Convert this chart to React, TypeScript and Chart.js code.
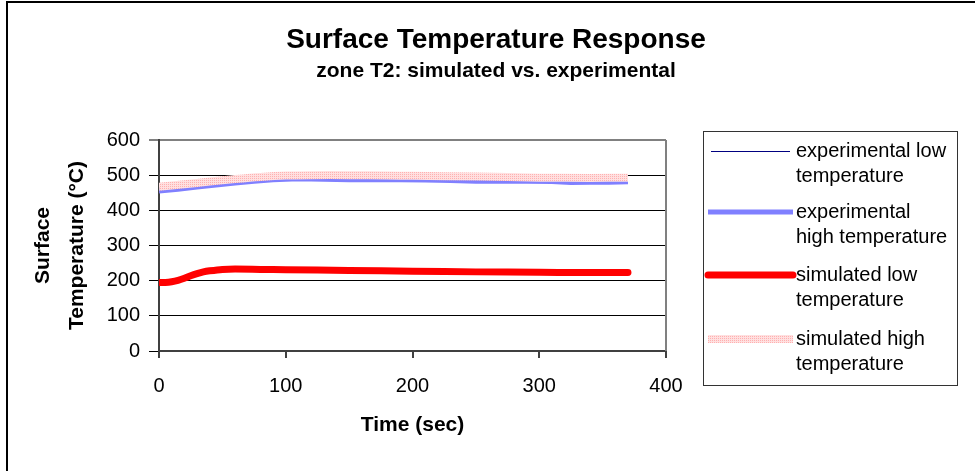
import React, { useEffect, useRef } from "react";
import { Chart, registerables } from "chart.js";
Chart.register(...registerables);

const titleText = "Surface Temperature Response";
const subtitleText = "zone T2: simulated vs. experimental";
const xAxisTitle = "Time (sec)";
const yAxisTitleLines = ["Surface", "Temperature (°C)"];

const xTickValues = [0, 100, 200, 300, 400];
const yTickValues = [0, 100, 200, 300, 400, 500, 600];

const seriesNames = [
  ["experimental low", "temperature"],
  ["experimental", "high temperature"],
  ["simulated low", "temperature"],
  ["simulated high", "temperature"],
];

const expLowTime = [0, 20, 40, 60, 100, 150, 200, 250, 300, 370];
const expLowTemp = [196, 205, 227, 232, 230, 229, 227, 225, 224, 223];

const expHighTime = [0, 15, 30, 45, 60, 75, 90, 105, 120, 140, 150, 170, 190, 210, 230, 250, 270, 290, 310, 325, 340, 355, 370];
const expHighTemp = [455, 460, 466, 472, 478, 483, 487, 489, 489, 488, 487, 488, 487, 486, 485, 483, 483, 483, 482, 479, 480, 480, 481];

const simLowTime = [0, 5, 10, 15, 20, 25, 30, 35, 40, 50, 60, 80, 100, 150, 200, 250, 300, 330, 370];
const simLowTemp = [195, 195, 197, 201, 207, 214, 220, 225, 228, 232, 233, 232, 231, 229, 227, 225, 224, 223, 223];

const simHighTime = [0, 20, 40, 60, 80, 100, 120, 150, 180, 200, 250, 300, 340, 370];
const simHighTemp = [467, 474, 482, 489, 495, 499, 500, 500, 499, 498, 496, 493, 492, 493];

const toPoints = (xs: number[], ys: number[]) => xs.map((x, i) => ({ x, y: ys[i] }));

const FONT = "'Liberation Sans', Arial, sans-serif";

export default function App() {
  const ref = useRef<HTMLCanvasElement>(null);
  useEffect(() => {
    const canvas = ref.current!;
    const pc = document.createElement("canvas");
    pc.width = 4;
    pc.height = 4;
    const pctx = pc.getContext("2d")!;
    pctx.fillStyle = "#FFE0E0";
    pctx.fillRect(0, 0, 4, 4);
    pctx.fillStyle = "#FFB0B0";
    pctx.fillRect(0, 0, 1, 1);
    pctx.fillRect(2, 2, 1, 1);
    pctx.fillRect(2, 0, 1, 1);
    pctx.fillRect(0, 2, 1, 1);
    const pattern = canvas.getContext("2d")!.createPattern(pc, "repeat")!;

    const styles = [
      { color: "#000080", width: 1 },
      { color: "#8080FF", width: 5 },
      { color: "#FF0000", width: 7 },
      { color: pattern as any, width: 8 },
    ];

    const deco = {
      id: "deco",
      afterDraw(chart: any) {
        const ctx = chart.ctx as CanvasRenderingContext2D;
        const ca = chart.chartArea;
        ctx.save();
        // outer border
        ctx.strokeStyle = "#000";
        ctx.lineWidth = 2;
        ctx.beginPath();
        ctx.moveTo(7, 471);
        ctx.lineTo(7, 2);
        ctx.lineTo(975, 2);
        ctx.stroke();
        // plot right border
        ctx.strokeStyle = "#808080";
        ctx.lineWidth = 2;
        ctx.beginPath();
        ctx.moveTo(ca.right, ca.top);
        ctx.lineTo(ca.right, ca.bottom);
        ctx.stroke();
        // titles
        ctx.fillStyle = "#000";
        ctx.textAlign = "center";
        ctx.textBaseline = "middle";
        ctx.font = `bold 28px ${FONT}`;
        ctx.fillText(titleText, 496, 40);
        ctx.font = `bold 21px ${FONT}`;
        ctx.fillText(subtitleText, 496, 71);
        ctx.fillText(xAxisTitle, (ca.left + ca.right) / 2, 425);
        const yc = (ca.top + ca.bottom) / 2;
        ctx.save();
        ctx.translate(43, yc);
        ctx.rotate(-Math.PI / 2);
        ctx.fillText(yAxisTitleLines[0], 0, 0);
        ctx.restore();
        ctx.save();
        ctx.translate(77, yc);
        ctx.rotate(-Math.PI / 2);
        ctx.fillText(yAxisTitleLines[1], 0, 0);
        ctx.restore();
        // legend
        ctx.strokeStyle = "#333";
        ctx.lineWidth = 1;
        ctx.strokeRect(703.5, 131.5, 254, 254);
        const rowY = [151, 212, 275, 339];
        ctx.font = `20px ${FONT}`;
        ctx.textAlign = "left";
        seriesNames.forEach((lines, i) => {
          const y = rowY[i];
          const ly = i === 0 ? y + 0.5 : y;
          ctx.strokeStyle = styles[i].color;
          ctx.lineWidth = styles[i].width;
          ctx.lineCap = i === 2 ? "round" : "butt";
          ctx.beginPath();
          ctx.moveTo(i === 0 ? 711 : 708, ly);
          ctx.lineTo(i === 0 ? 790 : 793, ly);
          ctx.stroke();
          ctx.fillStyle = "#000";
          ctx.fillText(lines[0], 796, y);
          ctx.fillText(lines[1], 796, y + 25);
        });
        ctx.restore();
      },
    };

    const chart = new Chart(canvas, {
      type: "scatter",
      data: {
        datasets: [
          { label: seriesNames[0].join(" "), data: toPoints(expLowTime, expLowTemp), borderColor: styles[0].color, borderWidth: 1, showLine: true, pointRadius: 0, tension: 0.3, order: 4 },
          { label: seriesNames[1].join(" "), data: toPoints(expHighTime, expHighTemp), borderColor: styles[1].color, borderWidth: 5, showLine: true, pointRadius: 0, tension: 0, order: 3 },
          { label: seriesNames[2].join(" "), data: toPoints(simLowTime, simLowTemp), borderColor: styles[2].color, borderWidth: 7, showLine: true, pointRadius: 0, tension: 0.3, borderCapStyle: "round", order: 2 },
          { label: seriesNames[3].join(" "), data: toPoints(simHighTime, simHighTemp), borderColor: pattern as any, borderWidth: 8, showLine: true, pointRadius: 0, tension: 0.3, order: 1 },
        ],
      },
      options: {
        responsive: false,
        animation: false,
        layout: { padding: { left: 8, right: 309, top: 140, bottom: 0 } },
        plugins: { legend: { display: false }, tooltip: { enabled: false }, title: { display: false } },
        scales: {
          x: {
            type: "linear",
            min: 0,
            max: 400,
            afterBuildTicks: (s: any) => { s.ticks = xTickValues.map((v) => ({ value: v })); },
            afterFit: (s: any) => { s.height = 120; },
            ticks: { color: "#000", font: { family: FONT, size: 20 }, padding: 16, maxRotation: 0 },
            grid: { drawOnChartArea: false, drawTicks: true, tickLength: 7, color: "#404040", lineWidth: 2 },
            border: { display: true, color: "#404040", width: 2 },
          },
          y: {
            type: "linear",
            min: 0,
            max: 600,
            afterBuildTicks: (s: any) => { s.ticks = yTickValues.map((v) => ({ value: v })); },
            afterFit: (s: any) => { s.width = 151; },
            ticks: { color: "#000", font: { family: FONT, size: 20 }, padding: 9 },
            grid: {
              drawTicks: true,
              tickLength: 10,
              color: (c: any) => (c.tick && c.tick.value === 600 ? "#808080" : "#000"),
              lineWidth: (c: any) => (c.tick && c.tick.value === 600 ? 2 : 1),
            },
            border: { display: true, color: "#404040", width: 2 },
          },
        },
      },
      plugins: [deco],
    });
    return () => chart.destroy();
  }, []);
  return (
    <div style={{ position: "fixed", left: 0, top: 0, width: 975, height: 471, background: "#fff" }}>
      <canvas ref={ref} width={975} height={471} style={{ display: "block", width: 975, height: 471 }} />
    </div>
  );
}
